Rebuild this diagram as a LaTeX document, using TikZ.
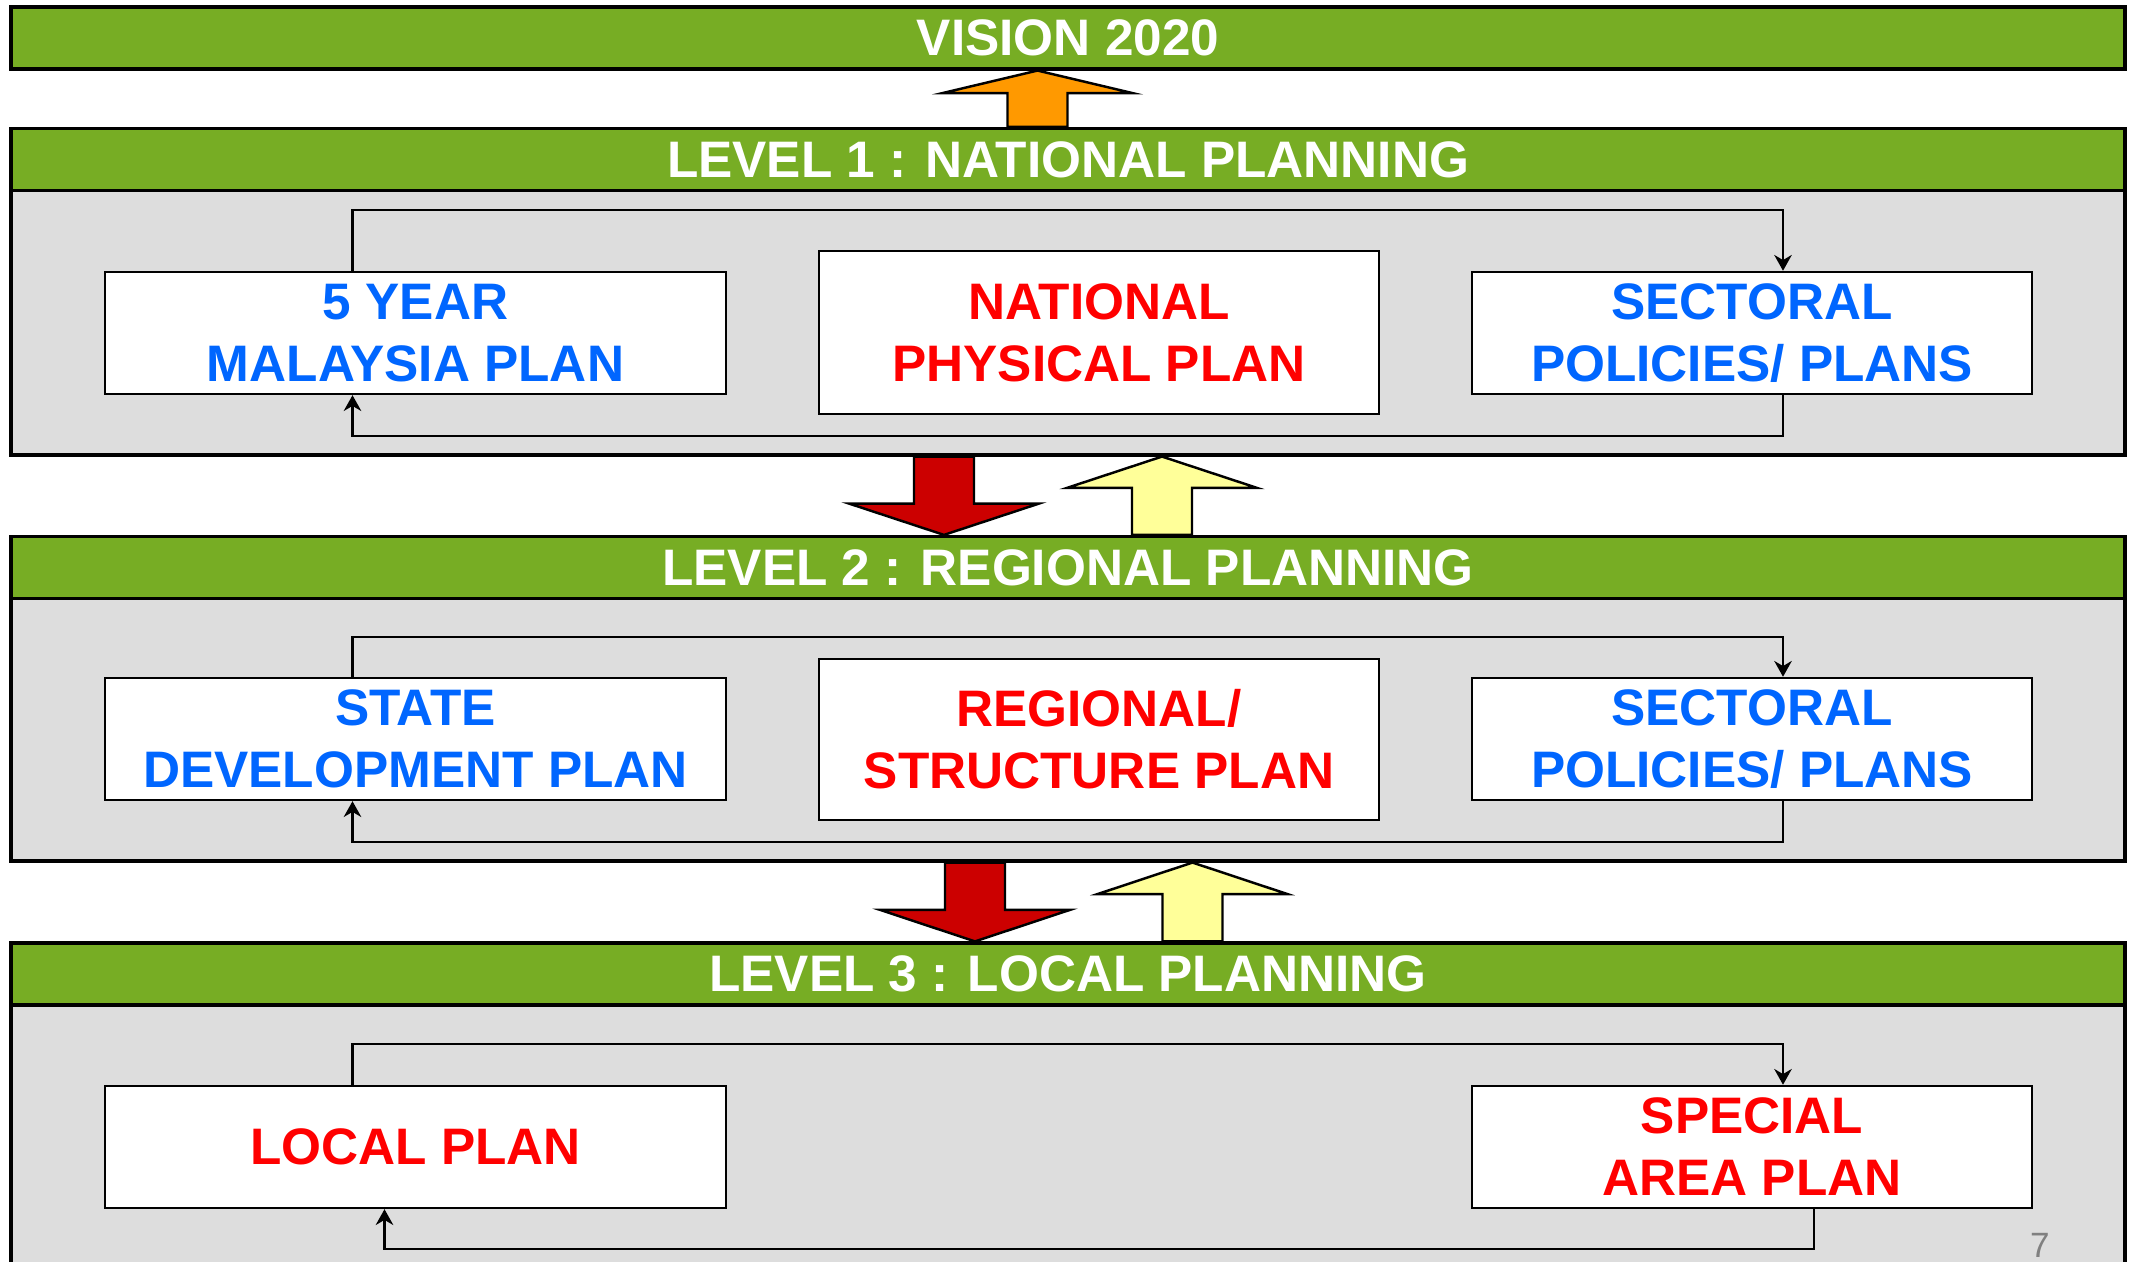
\documentclass[tikz,border=0pt]{standalone}
\usepackage{fontspec}
\setmainfont{Liberation Sans}
\usetikzlibrary{calc,positioning,arrows.meta}
\definecolor{bargreen}{RGB}{119,173,36}
\definecolor{panelgray}{RGB}{221,221,221}
\definecolor{planblue}{RGB}{0,102,255}
\definecolor{planred}{RGB}{255,0,0}
\definecolor{uporange}{RGB}{255,153,0}
\definecolor{downred}{RGB}{204,0,0}
\definecolor{upyellow}{RGB}{255,255,153}
\definecolor{numgray}{RGB}{128,128,128}
\newcommand{\levelarrow}[4]{%
  \coordinate (at-tail) at (#2,0 |- #3);
  \coordinate (at-tip) at (#2,0 |- #4);
  \coordinate (at-head) at ($(at-tip)!0.4!(at-tail)$);
  \draw[blockarrow,fill=#1] ([xshift=-3mm]at-tail) -- ([xshift=-3mm]at-head) -- ([xshift=-9.5mm]at-head) -- (at-tip) -- ([xshift=9.5mm]at-head) -- ([xshift=3mm]at-head) -- ([xshift=3mm]at-tail) -- cycle;}

\begin{document}
\begin{tikzpicture}[bar/.style={draw,fill=bargreen,line width=0.9pt,minimum width=21.14cm,minimum height=0.62cm,inner sep=0pt,text=white,font=\fontsize{14.6}{17.6}\selectfont\bfseries},
                    panel/.style={draw,fill=panelgray,line width=0.9pt,minimum width=21.14cm,inner sep=0pt},
                    plan/.style={draw,fill=white,line width=0.7pt,minimum height=1.22cm,inner sep=0pt,align=center,font=\fontsize{14.6}{17.6}\selectfont\bfseries},
                    sidebox/.style={plan,minimum width=6.21cm},
                    midbox/.style={plan,minimum width=5.60cm},
                    flow/.style={-{Stealth[length=4.5pt,width=5pt]},line width=0.6pt},
                    blockarrow/.style={draw,line width=0.7pt,line join=miter}]
                                \useasboundingbox (0,0) rectangle (21.30,12.62);
                                \node[bar] (vision) at (10.68,12.24) {VISION 2020};

                                \node[panel,minimum height=2.65cm] (p1) at (10.68,9.395) {};
                                \node[bar] (l1) at (10.68,11.025) {LEVEL 1 : NATIONAL PLANNING};
                                \node[sidebox,text=planblue] (fyp) at (4.155,9.29) {5 YEAR\\MALAYSIA PLAN};
                                \node[midbox,text=planred,minimum height=1.63cm] (npp) at (10.99,9.295) {NATIONAL\\PHYSICAL PLAN};
                                \node[midbox,text=planblue] (sec1) at (17.52,9.29) {SECTORAL\\POLICIES/ PLANS};

                                \node[panel,minimum height=2.63cm] (p2) at (10.68,5.325) {};
                                \node[bar] (l2) at (10.68,6.945) {LEVEL 2 : REGIONAL PLANNING};
                                \node[sidebox,text=planblue] (sdp) at (4.155,5.23) {STATE\\DEVELOPMENT PLAN};
                                \node[midbox,text=planred,minimum height=1.61cm] (rsp) at (10.99,5.225) {REGIONAL/\\STRUCTURE PLAN};
                                \node[midbox,text=planblue] (sec2) at (17.52,5.23) {SECTORAL\\POLICIES/ PLANS};

                                \node[panel,minimum height=2.77cm] (p3) at (10.68,1.185) {};
                                \node[bar] (l3) at (10.68,2.88) {LEVEL 3 : LOCAL PLANNING};
                                \node[sidebox,text=planred] (lp) at (4.155,1.15) {LOCAL PLAN};
                                \node[midbox,text=planred] (sap) at (17.52,1.15) {SPECIAL\\AREA PLAN};
                                \node[text=numgray,inner sep=0pt,font=\fontsize{10}{12}\selectfont] (slideno) at (20.40,0.17) {7};

                                \levelarrow{uporange}{10.375}{l1.north}{vision.south}
                                \levelarrow{downred}{9.44}{p1.south}{l2.north}
                                \levelarrow{upyellow}{11.62}{l2.north}{p1.south}
                                \levelarrow{downred}{9.75}{p2.south}{l3.north}
                                \levelarrow{upyellow}{11.925}{l3.north}{p2.south}

                                \draw[flow] ([xshift=-6.3mm]fyp.north) -- ++(0,0.61) -| ([xshift=3.1mm]sec1.north);
                                \draw[flow] ([xshift=3.1mm]sec1.south) -- ++(0,-0.41) -| ([xshift=-6.3mm]fyp.south);
                                \draw[flow] ([xshift=-6.3mm]sdp.north) -- ++(0,0.40) -| ([xshift=3.1mm]sec2.north);
                                \draw[flow] ([xshift=3.1mm]sec2.south) -- ++(0,-0.41) -| ([xshift=-6.3mm]sdp.south);
                                \draw[flow] ([xshift=-6.3mm]lp.north) -- ++(0,0.41) -| ([xshift=3.1mm]sap.north);
                                \draw[flow] ([xshift=6.2mm]sap.south) -- ++(0,-0.40) -| ([xshift=-3.1mm]lp.south);
                            \end{tikzpicture}
\end{document}
